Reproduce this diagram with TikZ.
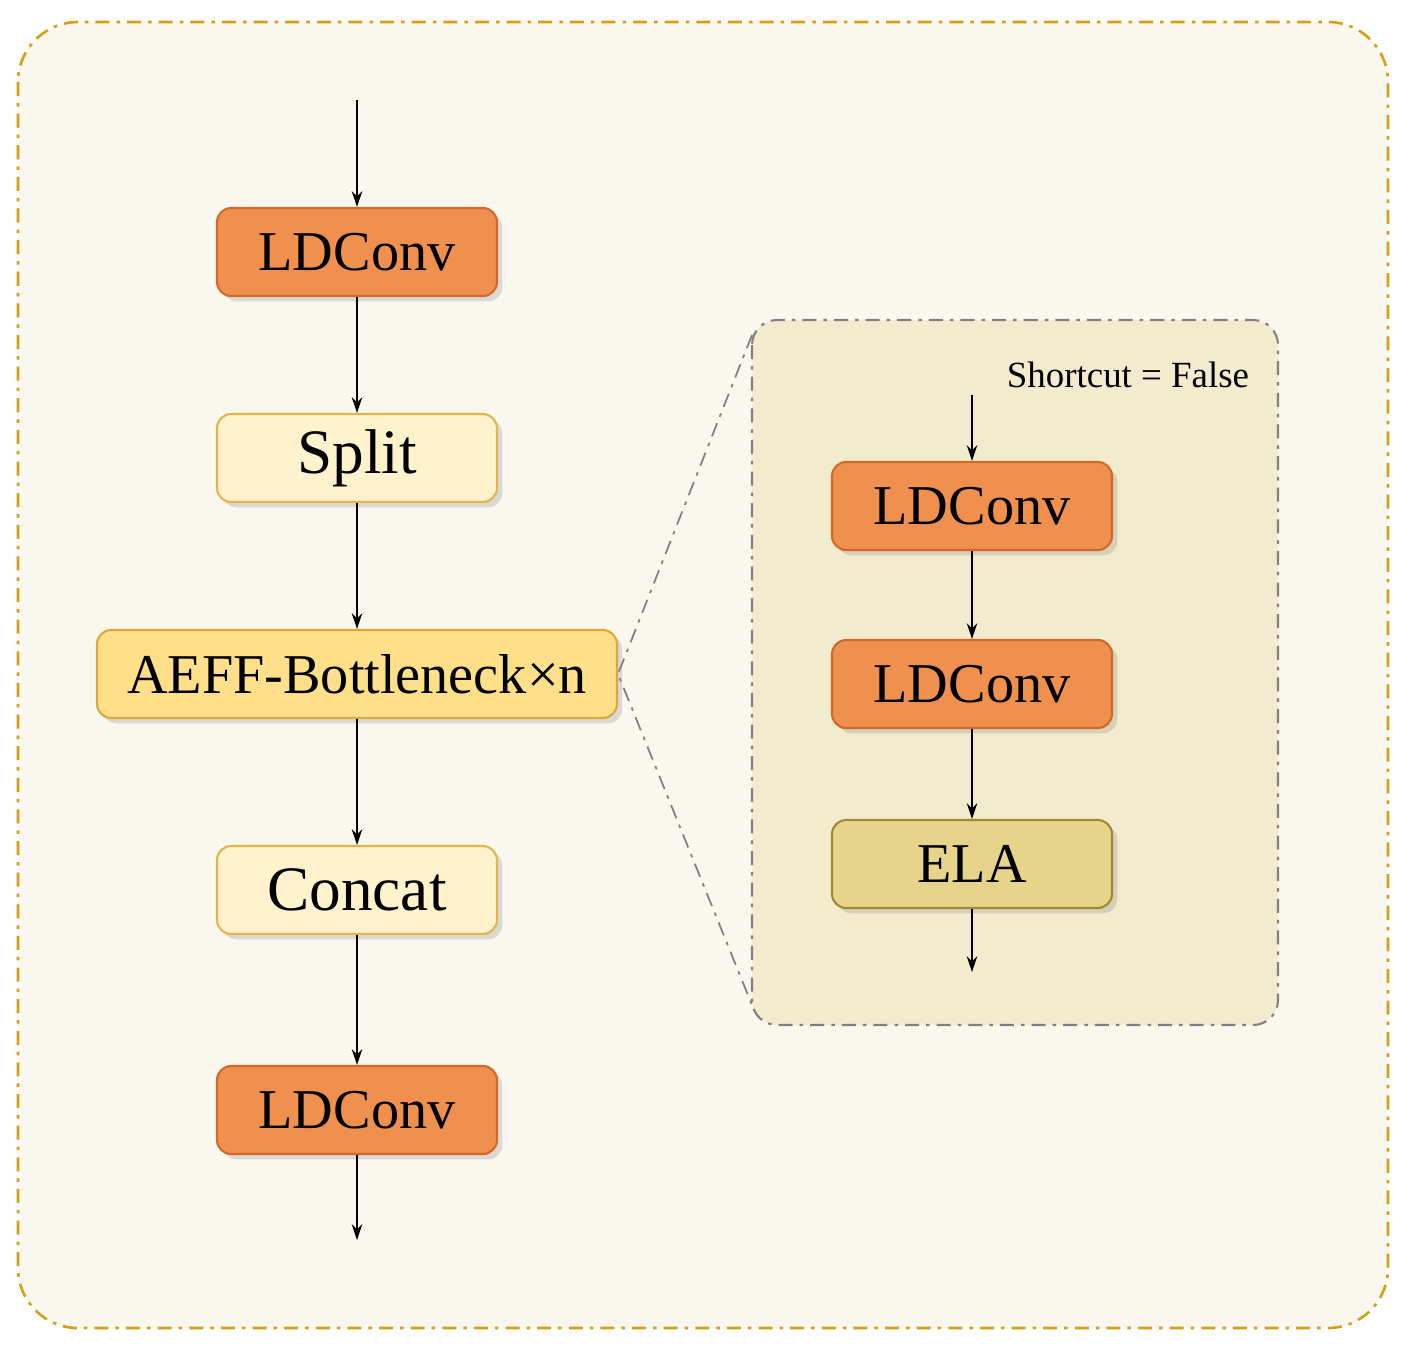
\documentclass[tikz,border=0pt]{standalone}
\usepackage{fontspec}
\setmainfont{Liberation Serif}
\usetikzlibrary{shadows,arrows.meta}
\definecolor{gold}{HTML}{D4A017}
\definecolor{bgout}{HTML}{FAF7EF}
\definecolor{bgin}{HTML}{F3EBCD}
\definecolor{orf}{HTML}{F0904F}
\definecolor{ord}{HTML}{D06A2A}
\definecolor{ltf}{HTML}{FFF2CC}
\definecolor{ltd}{HTML}{E0B84A}
\definecolor{yef}{HTML}{FFE08A}
\definecolor{yed}{HTML}{D9A93A}
\definecolor{elf}{HTML}{E5D48A}
\definecolor{eld}{HTML}{A08A30}
\tikzset{
 box/.style={rounded corners=8pt,line width=1.2pt,minimum height=1.76cm,inner sep=0pt,
   drop shadow={shadow xshift=3pt,shadow yshift=-3pt,opacity=0.25}},
 ld/.style={box,fill=orf,draw=ord,minimum width=5.6cm,font=\fontsize{32}{36}\selectfont},
 lt/.style={box,fill=ltf,draw=ltd,minimum width=5.6cm,font=\fontsize{36}{40}\selectfont},
 ar/.style={-{Stealth[length=9pt,width=6pt]},line width=0.8pt},
}
\begin{document}
\begin{tikzpicture}[x=0.02cm,y=-0.02cm]
\useasboundingbox (0,0) rectangle (1409,1353);
\draw[gold,fill=bgout,line width=1.5pt,dash pattern=on 8pt off 4pt on 2pt off 4pt,rounded corners=1.2cm] (18,22) rectangle (1388,1328);
\draw[gray,fill=bgin,line width=1.2pt,dash pattern=on 8pt off 4pt on 2pt off 4pt,rounded corners=0.5cm] (752,320) rectangle (1278,1025);
\coordinate (zt) at (752,335);
\coordinate (zb) at (752,1005);
\node[ld] (l1) at (357,252) {LDConv};
\node[lt] (sp) at (357,458) {Split};
\node[box,fill=yef,draw=yed,minimum width=10.4cm,font=\fontsize{32}{36}\selectfont] (ae) at (357,674) {AEFF-Bottleneck×n};
\node[lt] (cc) at (357,890) {Concat};
\node[ld] (l2) at (357,1110) {LDConv};
\coordinate (in) at (357,100);
\coordinate (out) at (357,1240);
\draw[ar] (in) -- (l1);
\draw[ar] (l1) -- (sp);
\draw[ar] (sp) -- (ae);
\draw[ar] (ae) -- (cc);
\draw[ar] (cc) -- (l2);
\draw[ar] (l2) -- (out);
\draw[gray,line width=1pt,dash pattern=on 8pt off 4pt on 2pt off 4pt] (zt) -- (ae.east) -- (zb);
\node[font=\fontsize{21}{24}\selectfont] (sc) at (1128,375) {Shortcut = False};
\node[ld] (r1) at (972,506) {LDConv};
\node[ld] (r2) at (972,684) {LDConv};
\node[box,fill=elf,draw=eld,minimum width=5.6cm,font=\fontsize{32}{36}\selectfont] (el) at (972,864) {ELA};
\coordinate (rin) at (972,395);
\coordinate (rout) at (972,972);
\draw[ar] (rin) -- (r1);
\draw[ar] (r1) -- (r2);
\draw[ar] (r2) -- (el);
\draw[ar] (el) -- (rout);
\end{tikzpicture}
\end{document}
